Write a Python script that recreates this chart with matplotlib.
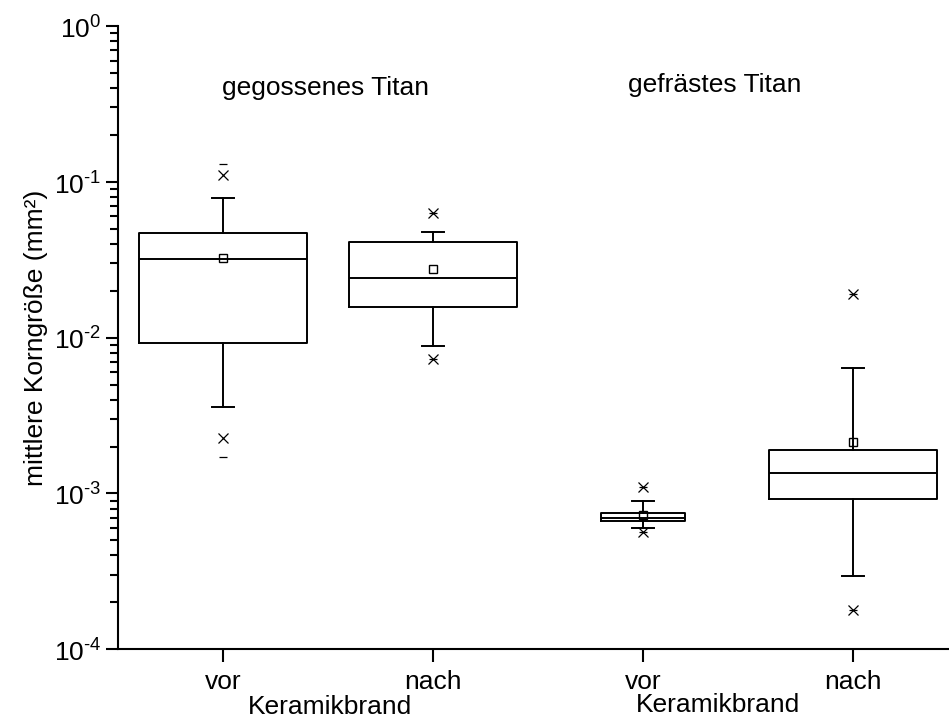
import numpy as np
import matplotlib
matplotlib.use("Agg")
import matplotlib.pyplot as plt
from matplotlib.ticker import LogLocator, NullFormatter, FuncFormatter

plt.rcParams['font.family'] = ['Liberation Sans', 'DejaVu Sans']
plt.rcParams['mathtext.fontset'] = 'custom'
plt.rcParams['mathtext.rm'] = 'Liberation Sans'

# values (mm^2)
labels = ["vor", "nach", "vor", "nach"]
q1 = [0.0093, 0.0158, 0.00067, 0.00092]
med = [0.0318, 0.0240, 0.00070, 0.00135]
q3 = [0.0468, 0.0408, 0.00075, 0.00190]
whislo = [0.0036, 0.0089, 0.00060, 0.000296]
whishi = [0.0785, 0.0475, 0.00089, 0.00637]
means = [0.0323, 0.0275, 0.00073, 0.00215]
p1 = [0.00228, 0.0073, 0.00057, 0.000179]
p99 = [0.111, 0.0628, 0.00110, 0.0190]
vmin = [0.00171, 0.0073, 0.00057, 0.000179]
vmax = [0.130, 0.0628, 0.00110, 0.0190]
widths = [0.8, 0.8, 0.4, 0.8]
pos = np.arange(1, 5)

stats = [dict(med=med[i], q1=q1[i], q3=q3[i], whislo=whislo[i], whishi=whishi[i],
              mean=means[i], fliers=[]) for i in range(4)]

fig = plt.figure(figsize=(9.49, 7.26), dpi=100)
ax = fig.add_axes([118/949, (726-649.3)/726, 840/949, (649.3-26)/726])

lw = 1.4
ax.bxp(stats, positions=pos, widths=widths, capwidths=0.105, showmeans=True,
       showfliers=False,
       boxprops=dict(color='black', lw=lw),
       medianprops=dict(color='black', lw=lw),
       whiskerprops=dict(color='black', lw=lw),
       capprops=dict(color='black', lw=lw),
       meanprops=dict(marker='s', markersize=6, markerfacecolor='none',
                      markeredgecolor='black', markeredgewidth=1))

ax.plot(pos, p1, ls='', marker='x', ms=7, color='black', mew=0.9)
ax.plot(pos, p99, ls='', marker='x', ms=7, color='black', mew=0.9)
ax.plot(pos, vmin, ls='', marker='_', ms=6, color='black', mew=0.9)
ax.plot(pos, vmax, ls='', marker='_', ms=6, color='black', mew=0.9)

ax.set_yscale('log')
ax.set_ylim(1e-4, 1e0)
ax.set_xlim(0.5, 4.5)
ax.set_xticks(pos)
ax.set_xticklabels(labels)
ax.yaxis.set_major_formatter(FuncFormatter(
    lambda v, p: r"$10^{\text{%d}}$" % int(round(np.log10(v)))))
ax.yaxis.set_minor_locator(LogLocator(base=10, subs=np.arange(2, 10)))
ax.yaxis.set_minor_formatter(NullFormatter())

for s in ['top', 'right']:
    ax.spines[s].set_visible(False)
for s in ['left', 'bottom']:
    ax.spines[s].set_linewidth(1.5)
ax.tick_params(which='major', length=9, width=1.5, labelsize=19, direction='out')
ax.tick_params(which='minor', length=5.5, width=1.5, direction='out')
ax.tick_params(axis='x', pad=6)
ax.tick_params(axis='y', pad=3)

ax.set_ylabel("mittlere Korngröße (mm²)", fontsize=19, labelpad=4)

fig.text(325/949, 1-88/726, "gegossenes Titan", fontsize=19, ha='center', va='center')
fig.text(715/949, 1-85/726, "gefrästes Titan", fontsize=19, ha='center', va='center')
fig.text(330/949, 1-707/726, "Keramikbrand", fontsize=19, ha='center', va='center')
fig.text(718/949, 1-705/726, "Keramikbrand", fontsize=19, ha='center', va='center')

fig.savefig("out.png", dpi=100)
